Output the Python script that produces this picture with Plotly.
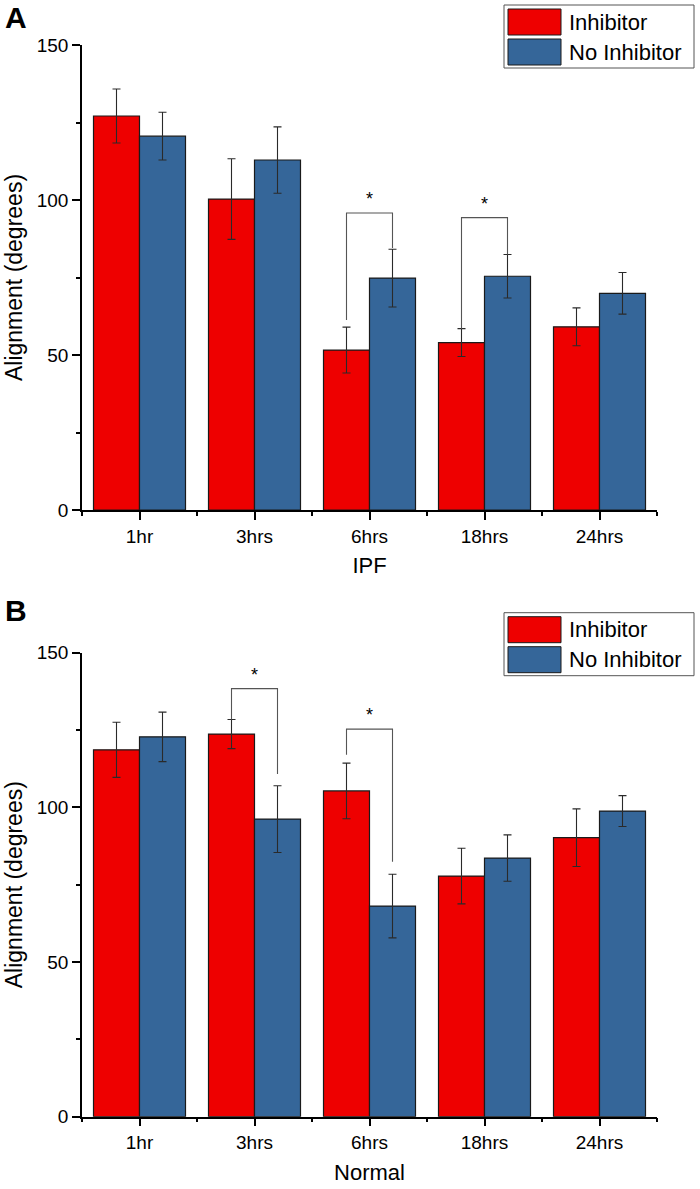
import plotly.graph_objects as go

# ---- data ----
times = ["1hr", "3hrs", "6hrs", "18hrs", "24hrs"]
series_names = ["Inhibitor", "No Inhibitor"]

ipf_inhib = [127.1, 100.3, 51.6, 54.0, 59.1]
ipf_inhib_err = [8.7, 13.0, 7.4, 4.5, 6.1]
ipf_noinhib = [120.6, 112.9, 74.8, 75.4, 69.9]
ipf_noinhib_err = [7.7, 10.7, 9.3, 7.0, 6.7]

norm_inhib = [118.6, 123.7, 105.3, 77.8, 90.2]
norm_inhib_err = [8.9, 4.7, 9.0, 9.0, 9.3]
norm_noinhib = [122.8, 96.2, 68.1, 83.6, 98.8]
norm_noinhib_err = [8.0, 10.8, 10.3, 7.5, 5.0]

# significance brackets: category index, top level, left foot, right foot
ipf_sig_idx = [2, 3]
ipf_sig_top = [95.8, 94.3]
ipf_sig_left = [61.3, 58.5]
ipf_sig_right = [84.5, 82.4]

norm_sig_idx = [1, 2]
norm_sig_top = [138.4, 125.3]
norm_sig_left = [128.4, 117.0]
norm_sig_right = [110.8, 82.4]

panel_titles = ["IPF", "Normal"]
panel_letters = ["A", "B"]
y_title = "Alignment (degrees)"

RED = "#EE0000"
BLUE = "#356699"
W, H = 700, 1189
FONT = "Liberation Sans, Arial, sans-serif"


def px_x(x):
    return x / W


def px_y(y):
    return 1 - y / H


fig = go.Figure()

panels = [
    dict(inh=ipf_inhib, inh_e=ipf_inhib_err, no=ipf_noinhib, no_e=ipf_noinhib_err,
         sig=(ipf_sig_idx, ipf_sig_top, ipf_sig_left, ipf_sig_right),
         xa="x", ya="y", top_px=45, bot_px=510),
    dict(inh=norm_inhib, inh_e=norm_inhib_err, no=norm_noinhib, no_e=norm_noinhib_err,
         sig=(norm_sig_idx, norm_sig_top, norm_sig_left, norm_sig_right),
         xa="x2", ya="y2", top_px=652.7, bot_px=1116.7),
]

xpos = list(range(len(times)))
shapes = []
annotations = []

for p_i, p in enumerate(panels):
    for name, vals, errs, col in [
        (series_names[0], p["inh"], p["inh_e"], RED),
        (series_names[1], p["no"], p["no_e"], BLUE),
    ]:
        fig.add_trace(go.Bar(
            x=xpos, y=vals, name=name, offsetgroup=name,
            marker=dict(color=col, line=dict(color="#1a1a1a", width=1.2)),
            error_y=dict(type="data", array=errs, visible=True,
                         color="#2a2a2a", thickness=1.1, width=4),
            xaxis=p["xa"], yaxis=p["ya"], showlegend=False,
        ))

    # significance brackets
    idx, top, left, right = p["sig"]
    for i, t, lb, rb in zip(idx, top, left, right):
        fig.add_trace(go.Scatter(
            x=[i - 0.2, i - 0.2, i + 0.2, i + 0.2], y=[lb, t, t, rb],
            mode="lines", line=dict(color="#555555", width=1.1),
            xaxis=p["xa"], yaxis=p["ya"], showlegend=False, hoverinfo="skip",
        ))
        annotations.append(dict(
            x=i, y=t, xref=p["xa"], yref=p["ya"], text="*", showarrow=False,
            yanchor="bottom", yshift=2, font=dict(size=18, color="black", family=FONT),
        ))

    # manual legend box (top right of each panel)
    ly0 = 5 if p_i == 0 else 612.7
    shapes.append(dict(type="rect", xref="paper", yref="paper",
                       x0=px_x(504), x1=px_x(694), y0=px_y(ly0), y1=px_y(ly0 + 63),
                       line=dict(color="#555555", width=1), fillcolor="white"))
    for k, (nm, col) in enumerate(zip(series_names, [RED, BLUE])):
        sy = ly0 + 4 + k * 30
        shapes.append(dict(type="rect", xref="paper", yref="paper",
                           x0=px_x(508), x1=px_x(561), y0=px_y(sy), y1=px_y(sy + 26),
                           line=dict(color="#1a1a1a", width=1), fillcolor=col))
        annotations.append(dict(x=px_x(567), y=px_y(sy + 13), xref="paper", yref="paper",
                                text=nm, showarrow=False, xanchor="left", yanchor="middle",
                                font=dict(size=22, color="black", family=FONT)))

    # panel letter
    annotations.append(dict(x=px_x(3), y=px_y(18 if p_i == 0 else 610), xref="paper", yref="paper",
                            text="<b>%s</b>" % panel_letters[p_i], showarrow=False,
                            xanchor="left", yanchor="middle",
                            font=dict(size=30, color="black", family=FONT)))

axis_common = dict(showline=True, linecolor="black", linewidth=1.5, showgrid=False,
                   zeroline=False, ticks="outside", ticklen=8, tickwidth=1.5, tickcolor="black",
                   automargin=False,
                   tickfont=dict(size=19, color="black", family=FONT))

for p_i, p in enumerate(panels):
    sfx = "" if p_i == 0 else "2"
    fig.update_layout(**{
        "xaxis" + sfx: dict(
            axis_common, domain=[px_x(82), px_x(657)], range=[-0.5, len(times) - 0.5],
            tickmode="array", tickvals=xpos, ticktext=times,
            minor=dict(ticks="outside", ticklen=4, tickwidth=1.5, tickcolor="black",
                       tickvals=[i - 0.5 for i in range(len(times) + 1)]),
            anchor="y" + sfx,
            title=dict(text=panel_titles[p_i], standoff=12,
                       font=dict(size=22, color="black", family=FONT)),
        ),
        "yaxis" + sfx: dict(
            axis_common, domain=[px_y(p["bot_px"]), px_y(p["top_px"])], range=[0, 150],
            tickmode="linear", tick0=0, dtick=50,
            minor=dict(ticks="outside", ticklen=4, tickwidth=1.5, tickcolor="black",
                       tick0=0, dtick=25),
            anchor="x" + sfx,
            title=dict(text=y_title, standoff=8,
                       font=dict(size=23, color="black", family=FONT)),
        ),
    })

fig.update_layout(
    width=W, height=H, autosize=False,
    margin=dict(l=0, r=0, t=0, b=0, autoexpand=False),
    barmode="group", bargap=0.2, bargroupgap=0,
    plot_bgcolor="white", paper_bgcolor="white",
    shapes=shapes, annotations=annotations,
    font=dict(family=FONT, color="black"),
)

fig.write_html("out.html", config={"displayModeBar": False},
               post_script="document.body.style.margin='0';")
